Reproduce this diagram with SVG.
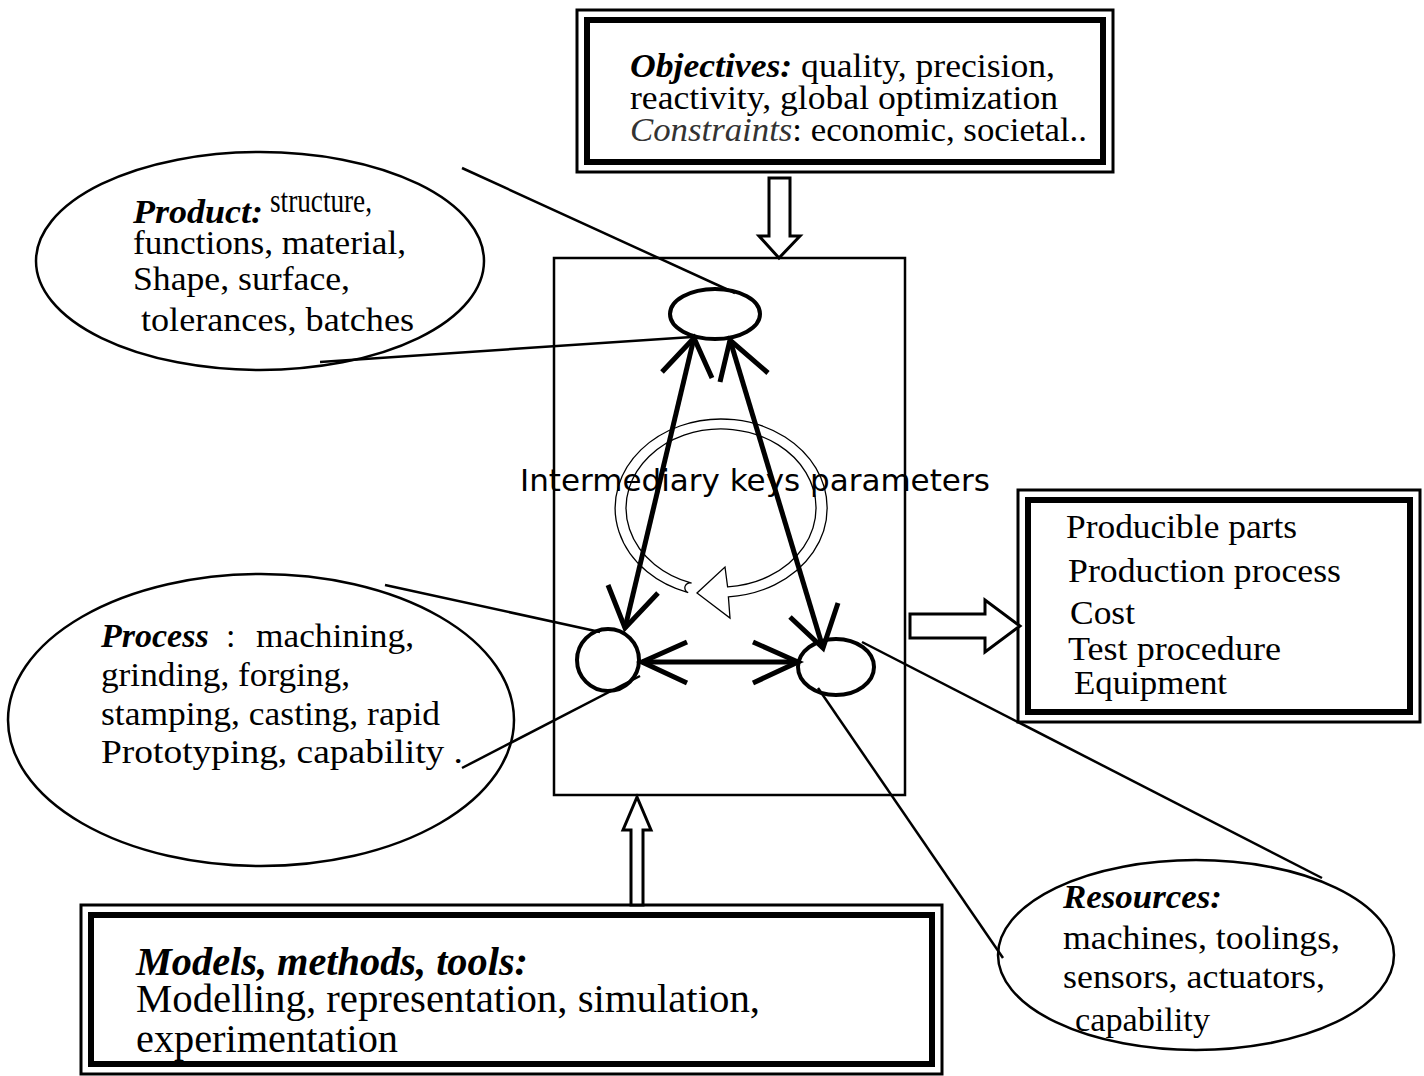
<svg xmlns="http://www.w3.org/2000/svg" width="1424" height="1076" viewBox="0 0 1424 1076">
<style>
  text { font-family: "Liberation Serif", "Times New Roman", serif; font-size: 34px; fill: #000; }
  .bi { font-weight: bold; font-style: italic; }
  .it { font-style: italic; fill: #333; }
  .sans { font-family: "DejaVu Sans", Verdana, sans-serif; font-size: 31px; }
  .big { font-size: 39px; }
  .frameO { fill: none; stroke: #000; stroke-width: 3; }
  .frameI { fill: none; stroke: #000; stroke-width: 6; }
  .node { fill: none; stroke: #000; stroke-width: 4; }
  .bubble { fill: none; stroke: #000; stroke-width: 2.5; }
  .callout { fill: none; stroke: #000; stroke-width: 2.5; }
  .link { fill: none; stroke: #000; stroke-width: 5; stroke-linecap: butt; }
  .hollow { fill: #fff; stroke: #000; stroke-width: 3; stroke-linejoin: miter; }
</style>
<rect width="1424" height="1076" fill="#fff"/>

<g id="objectives">
  <rect class="frameO" x="577" y="10" width="536" height="162"/>
  <rect class="frameI" x="587" y="20" width="516" height="142"/>
  <text x="630" y="77" textLength="425" lengthAdjust="spacingAndGlyphs"><tspan class="bi">Objectives:</tspan> quality, precision,</text>
  <text x="630" y="109" textLength="428" lengthAdjust="spacingAndGlyphs">reactivity, global optimization</text>
  <text x="630" y="141" textLength="457" lengthAdjust="spacingAndGlyphs"><tspan class="it">Constraints</tspan>: economic, societal..</text>
</g>

<g id="central">
  <rect x="554" y="258" width="351" height="537" fill="none" stroke="#000" stroke-width="2.5"/>
</g>

<g id="cycle">
  <path d="M688.2,592.6 A106,89 0 1 1 728.4,596.8 L730,618 L697,593 L725,567 L727.6,586.8 A95,79 0 1 0 691.6,583.1 A5,5 0 0 0 688.2,592.6 Z" fill="#fff" stroke="#000" stroke-width="1.3"/>
  <text class="sans" x="520" y="491">Intermediary keys parameters</text>
</g>

<g id="node-product-key">
  <ellipse class="node" cx="715" cy="314" rx="45" ry="25"/>
</g>
<g id="node-process-key">
  <ellipse class="node" cx="608" cy="660" rx="31" ry="31"/>
</g>
<g id="node-resource-key">
  <ellipse class="node" cx="836" cy="667" rx="38" ry="28"/>
</g>

<g id="product">
  <ellipse class="bubble" cx="260" cy="261" rx="224" ry="109"/>
  <text x="133" y="223" class="bi" textLength="130" lengthAdjust="spacingAndGlyphs">Product:</text>
  <text x="270" y="212" font-size="21" textLength="102" lengthAdjust="spacingAndGlyphs">structure,</text>
  <text x="133" y="254" textLength="273" lengthAdjust="spacingAndGlyphs">functions, material,</text>
  <text x="133" y="290" textLength="217" lengthAdjust="spacingAndGlyphs">Shape, surface,</text>
  <text x="141" y="331" textLength="273" lengthAdjust="spacingAndGlyphs">tolerances, batches</text>
</g>

<g id="process">
  <ellipse class="bubble" cx="261" cy="720" rx="253" ry="146"/>
  <text x="101" y="647"><tspan class="bi">Process</tspan><tspan x="226">:</tspan><tspan x="256" textLength="158" lengthAdjust="spacingAndGlyphs">machining,</tspan></text>
  <text x="101" y="686" textLength="249" lengthAdjust="spacingAndGlyphs">grinding, forging,</text>
  <text x="101" y="725" textLength="339" lengthAdjust="spacingAndGlyphs">stamping, casting, rapid</text>
  <text x="101" y="763" textLength="362" lengthAdjust="spacingAndGlyphs">Prototyping, capability .</text>
</g>

<g id="resources">
  <ellipse class="bubble" cx="1196" cy="955" rx="198" ry="95"/>
  <text x="1063" y="908" class="bi" textLength="159" lengthAdjust="spacingAndGlyphs">Resources:</text>
  <text x="1063" y="949" textLength="277" lengthAdjust="spacingAndGlyphs">machines, toolings,</text>
  <text x="1063" y="988" textLength="262" lengthAdjust="spacingAndGlyphs">sensors, actuators,</text>
  <text x="1075" y="1031" textLength="135" lengthAdjust="spacingAndGlyphs">capability</text>
</g>

<g id="outputs">
  <rect class="frameO" x="1018" y="490" width="402" height="232"/>
  <rect class="frameI" x="1028" y="500" width="382" height="212"/>
  <text x="1066" y="538" textLength="231" lengthAdjust="spacingAndGlyphs">Producible parts</text>
  <text x="1068" y="582" textLength="273" lengthAdjust="spacingAndGlyphs">Production process</text>
  <text x="1070" y="624" textLength="65" lengthAdjust="spacingAndGlyphs">Cost</text>
  <text x="1068" y="660" textLength="213" lengthAdjust="spacingAndGlyphs">Test procedure</text>
  <text x="1074" y="694" textLength="153" lengthAdjust="spacingAndGlyphs">Equipment</text>
</g>

<g id="models">
  <rect class="frameO" x="81" y="905" width="861" height="169"/>
  <rect class="frameI" x="91" y="915" width="841" height="149"/>
  <text x="136" y="975" class="bi big" textLength="392" lengthAdjust="spacingAndGlyphs">Models, methods, tools:</text>
  <text x="136" y="1012" class="big" textLength="624" lengthAdjust="spacingAndGlyphs">Modelling, representation, simulation,</text>
  <text x="136" y="1052" class="big" textLength="262" lengthAdjust="spacingAndGlyphs">experimentation</text>
</g>

<g id="connectors">
  <line class="callout" x1="462" y1="168" x2="735" y2="293"/>
  <line class="callout" x1="320" y1="362" x2="692" y2="337"/>
  <line class="callout" x1="385" y1="585" x2="600" y2="632"/>
  <line class="callout" x1="462" y1="768" x2="640" y2="676"/>
  <line class="callout" x1="862" y1="642" x2="1322" y2="878"/>
  <line class="callout" x1="818" y1="688" x2="1003" y2="958"/>
  <line class="link" x1="694" y1="338" x2="625" y2="628"/>
  <polyline class="link" points="662,372 694,338 712,378"/>
  <polyline class="link" points="608,585 625,628 658,593"/>
  <line class="link" x1="730" y1="340" x2="823" y2="648"/>
  <polyline class="link" points="720,382 730,340 768,373"/>
  <polyline class="link" points="790,617 823,648 838,603"/>
  <line class="link" x1="642" y1="662" x2="798" y2="662"/>
  <polyline class="link" points="687,642 642,662 687,683"/>
  <polyline class="link" points="753,642 798,662 753,683"/>
  <path class="hollow" d="M769,178 L790,178 L790,236 L800,236 L779,258 L759,236 L769,236 Z"/>
  <path class="hollow" d="M910,614 L985,614 L985,600 L1020,626 L985,652 L985,638 L910,638 Z"/>
  <path class="hollow" d="M631,905 L631,830 L623,830 L637,797 L651,830 L643,830 L643,905 Z"/>
</g>
</svg>
